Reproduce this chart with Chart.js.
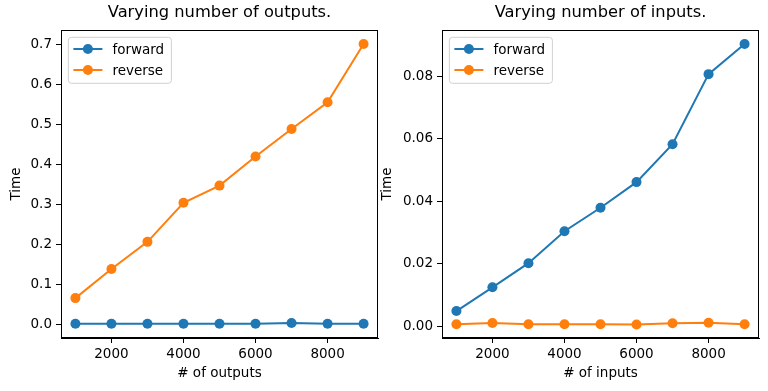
<!DOCTYPE html>
<html>
<head>
<meta charset="utf-8">
<script src="https://cdn.jsdelivr.net/npm/chart.js@4/dist/chart.umd.min.js"></script>
<style>
  body { margin: 0; background: #fff; width: 768px; height: 391px; position: relative; overflow: hidden; }
  canvas { position: absolute; top: 0; }
  #outputsChart { left: 0; }
  #inputsChart { left: 370px; }
</style>
</head>
<body>
<canvas id="outputsChart" width="384" height="391"></canvas>
<canvas id="inputsChart" width="398" height="391"></canvas>
<script>
// data
const sizes = [1000, 2000, 3000, 4000, 5000, 6000, 7000, 8000, 9000];
const outputsForward = [0.0008, 0.0008, 0.0008, 0.0008, 0.0008, 0.0008, 0.0025, 0.0008, 0.0008];
const outputsReverse = [0.065, 0.138, 0.206, 0.304, 0.347, 0.420, 0.489, 0.556, 0.702];
const inputsForward = [0.0049, 0.0125, 0.0202, 0.0304, 0.0379, 0.0461, 0.0582, 0.0806, 0.0902];
const inputsReverse = [0.0007, 0.0011, 0.0007, 0.0007, 0.0007, 0.0006, 0.0010, 0.0012, 0.0007];
const xTicks = [2000, 4000, 6000, 8000];
const outputsTicks = [0.0, 0.1, 0.2, 0.3, 0.4, 0.5, 0.6, 0.7];
const inputsTicks = [0.00, 0.02, 0.04, 0.06, 0.08];

const BLUE = '#1f77b4';
const ORANGE = '#ff7f0e';
Chart.defaults.font.family = '"DejaVu Sans", sans-serif';
Chart.defaults.color = '#000';

const tickFont = { size: 13.5 };

// frame, title and legend box drawn inside the plot area like matplotlib
const framePlugin = {
    id: 'frame',
    afterDraw(chart, args, opts) {
        const { ctx, chartArea: a } = chart;
        ctx.save();
        ctx.strokeStyle = '#000';
        ctx.lineWidth = 1;
        ctx.strokeRect(Math.round(a.left) + 0.5, Math.round(a.top) + 0.5,
            Math.round(a.right - a.left) - 1, Math.round(a.bottom - a.top) - 1);

        ctx.fillStyle = '#000';
        ctx.font = '16.3px "DejaVu Sans"';
        ctx.textAlign = 'center';
        ctx.textBaseline = 'middle';
        ctx.fillText(opts.title, (a.left + a.right) / 2, 13);

        // legend
        const bx = a.left + 7.4, by = a.top + 7.3, bw = 103, bh = 46;
        ctx.beginPath();
        ctx.roundRect(bx, by, bw, bh, 3);
        ctx.fillStyle = 'rgba(255,255,255,0.8)';
        ctx.fill();
        ctx.strokeStyle = '#d0d0d0';
        ctx.stroke();
        ctx.font = '13.5px "DejaVu Sans"';
        ctx.textAlign = 'left';
        chart.data.datasets.forEach((ds, i) => {
            const y = by + 11.7 + i * 21;
            ctx.strokeStyle = ds.borderColor;
            ctx.lineWidth = 2;
            ctx.beginPath();
            ctx.moveTo(bx + 5, y);
            ctx.lineTo(bx + 34, y);
            ctx.stroke();
            ctx.fillStyle = ds.borderColor;
            ctx.beginPath();
            ctx.arc(bx + 19.5, y, 5, 0, Math.PI * 2);
            ctx.fill();
            ctx.fillStyle = '#000';
            ctx.fillText(ds.label, bx + 44, y + 1);
        });
        ctx.restore();
    }
};

function makeChart(id, title, xLabel, forward, reverse, yTicks, yMin, yMax, decimals, yWidth, padRight, titlePad) {
    return new Chart(document.getElementById(id), {
        type: 'line',
        data: {
            datasets: [
                { label: 'forward', data: sizes.map((x, i) => ({ x, y: forward[i] })),
                  borderColor: BLUE, backgroundColor: BLUE, order: 1 },
                { label: 'reverse', data: sizes.map((x, i) => ({ x, y: reverse[i] })),
                  borderColor: ORANGE, backgroundColor: ORANGE, order: 0 }
            ]
        },
        options: {
            responsive: false,
            animation: false,
            elements: {
                line: { borderWidth: 2, tension: 0 },
                point: { radius: 5, borderWidth: 0, hoverRadius: 5 }
            },
            layout: { padding: { left: 0, top: 30, right: padRight, bottom: 0 } },
            plugins: {
                legend: { display: false },
                tooltip: { enabled: false },
                frame: { title }
            },
            scales: {
                x: {
                    type: 'linear',
                    min: 600,
                    max: 9400,
                    afterBuildTicks: s => { s.ticks = xTicks.map(v => ({ value: v })); },
                    afterFit: s => { s.height = 53; },
                    grid: { drawOnChartArea: false, tickLength: 5, color: '#000' },
                    border: { color: '#000' },
                    ticks: { font: tickFont, padding: 3, maxRotation: 0, autoSkip: false,
                             callback: v => String(v) },
                    title: { display: true, text: xLabel, font: tickFont, padding: { top: 0, bottom: 9 } }
                },
                y: {
                    min: yMin,
                    max: yMax,
                    afterBuildTicks: s => { s.ticks = yTicks.map(v => ({ value: v })); },
                    afterFit: s => { s.width = yWidth; },
                    grid: { drawOnChartArea: false, tickLength: 5, color: '#000' },
                    border: { color: '#000' },
                    ticks: { font: tickFont, padding: 4, autoSkip: false,
                             callback: v => Number(v).toFixed(decimals) },
                    title: { display: true, text: 'Time', font: tickFont, padding: { top: titlePad, bottom: 0 } }
                }
            }
        },
        plugins: [framePlugin]
    });
}

makeChart('outputsChart', 'Varying number of outputs.', '# of outputs',
    outputsForward, outputsReverse, outputsTicks, -0.035, 0.737, 1, 61, 6, 8);
makeChart('inputsChart', 'Varying number of inputs.', '# of inputs',
    inputsForward, inputsReverse, inputsTicks, -0.0037, 0.0947, 2, 72, 9, 9.4);
</script>
</body>
</html>
